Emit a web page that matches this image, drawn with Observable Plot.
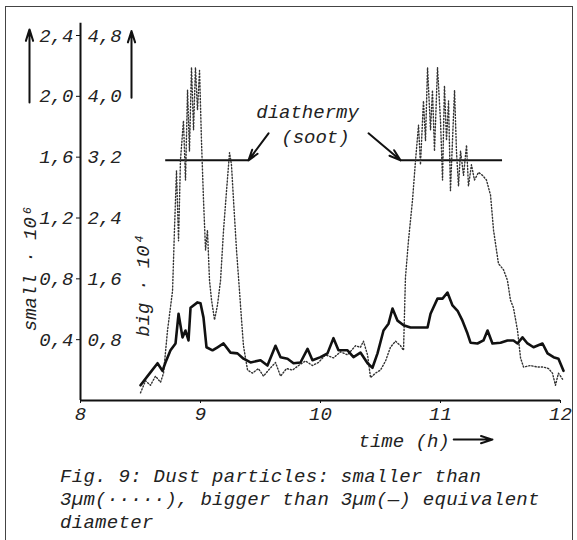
<!DOCTYPE html>
<html><head><meta charset="utf-8">
<script src="https://cdn.jsdelivr.net/npm/d3@7"></script>
<script src="https://cdn.jsdelivr.net/npm/@observablehq/plot@0.6"></script>
<style>
body{margin:0;background:#fff;}
#wrap{position:relative;width:577px;height:540px;overflow:hidden;background:#fff;}
#frame{position:absolute;left:5px;top:6px;width:568px;height:600px;border:1.5px solid #444;box-sizing:border-box;}
#chart{position:absolute;left:0;top:0;}
#caption{position:absolute;left:60px;top:466px;font:italic 19px "Liberation Mono", monospace;letter-spacing:0.3px;line-height:23px;color:#222;white-space:pre;}
</style></head>
<body><div id="wrap"><div id="frame"></div><div id="chart"></div><div id="caption"></div></div>
<script>
// time (h), small particles ·10^6 (dotted)
const smallDust = [[8.500,0.05],[8.542,0.13],[8.583,0.10],[8.625,0.16],[8.667,0.12],[8.692,0.18],[8.725,0.46],[8.767,0.72],[8.783,1.12],[8.800,1.51],[8.817,1.05],[8.833,1.58],[8.858,1.84],[8.875,1.45],[8.892,2.04],[8.908,1.64],[8.925,2.19],[8.942,1.78],[8.958,2.19],[8.975,1.91],[8.992,2.17],[9.008,1.71],[9.025,1.32],[9.042,0.99],[9.058,1.12],[9.075,0.79],[9.092,0.66],[9.117,0.53],[9.142,0.63],[9.167,0.79],[9.192,1.12],[9.217,1.38],[9.242,1.63],[9.258,1.55],[9.275,1.32],[9.300,0.99],[9.325,0.72],[9.342,0.53],[9.358,0.36],[9.392,0.20],[9.433,0.18],[9.483,0.21],[9.525,0.16],[9.567,0.20],[9.625,0.25],[9.667,0.16],[9.717,0.21],[9.767,0.20],[9.817,0.23],[9.875,0.26],[9.933,0.23],[9.983,0.25],[10.042,0.30],[10.108,0.28],[10.167,0.32],[10.225,0.30],[10.292,0.36],[10.333,0.35],[10.358,0.39],[10.392,0.30],[10.417,0.15],[10.458,0.18],[10.500,0.20],[10.542,0.26],[10.583,0.35],[10.625,0.39],[10.667,0.36],[10.692,0.33],[10.708,0.81],[10.733,1.05],[10.767,1.32],[10.792,1.58],[10.817,1.81],[10.833,1.55],[10.858,1.97],[10.875,1.71],[10.892,2.19],[10.917,1.78],[10.933,2.04],[10.950,1.64],[10.975,2.19],[11.000,1.84],[11.017,1.45],[11.033,2.07],[11.050,1.71],[11.067,1.97],[11.083,1.38],[11.100,1.71],[11.117,2.04],[11.133,1.64],[11.150,1.41],[11.167,1.64],[11.192,1.48],[11.217,1.68],[11.233,1.41],[11.258,1.55],[11.283,1.45],[11.317,1.50],[11.350,1.48],[11.383,1.45],[11.417,1.35],[11.442,1.12],[11.483,0.90],[11.525,0.86],[11.558,0.79],[11.583,0.66],[11.608,0.61],[11.642,0.46],[11.667,0.28],[11.692,0.22],[11.750,0.23],[11.808,0.22],[11.858,0.22],[11.900,0.21],[11.933,0.18],[11.958,0.10],[11.983,0.18],[12.017,0.14]];
// time (h), big particles ·10^4 (solid)
const bigDust = [[8.500,0.20],[8.583,0.37],[8.642,0.49],[8.683,0.39],[8.708,0.50],[8.750,0.66],[8.792,0.75],[8.817,1.14],[8.850,0.83],[8.875,0.92],[8.900,0.79],[8.917,1.22],[8.975,1.29],[9.000,1.28],[9.025,1.09],[9.050,0.70],[9.100,0.66],[9.142,0.70],[9.192,0.75],[9.250,0.63],[9.308,0.62],[9.358,0.55],[9.417,0.50],[9.500,0.53],[9.558,0.46],[9.625,0.72],[9.667,0.57],[9.725,0.55],[9.775,0.49],[9.833,0.50],[9.892,0.68],[9.933,0.53],[10.000,0.57],[10.058,0.62],[10.108,0.82],[10.150,0.66],[10.225,0.66],[10.275,0.57],[10.333,0.63],[10.392,0.49],[10.433,0.43],[10.475,0.62],[10.525,0.92],[10.567,1.01],[10.600,1.21],[10.642,1.05],[10.692,0.99],[10.750,0.96],[10.808,0.96],[10.892,0.96],[10.917,1.14],[10.975,1.34],[11.017,1.34],[11.058,1.42],[11.100,1.25],[11.142,1.18],[11.183,1.05],[11.225,0.88],[11.250,0.76],[11.308,0.75],[11.358,0.79],[11.392,0.92],[11.433,0.75],[11.500,0.76],[11.558,0.79],[11.608,0.79],[11.642,0.75],[11.683,0.83],[11.725,0.75],[11.775,0.70],[11.850,0.75],[11.892,0.62],[11.942,0.57],[11.983,0.55],[12.025,0.39]];

const xTicks = [8, 9, 10, 11, 12];
const xTickLabels = ["8", "9", "10", "11", "12"];
const yTicks = [0.4, 0.8, 1.2, 1.6, 2.0, 2.4];
const smallTickLabels = ["0,4", "0,8", "1,2", "1,6", "2,0", "2,4"];
const bigTickLabels = ["0,8", "1,6", "2,4", "3,2", "4,0", "4,8"];

// diathermy (soot) periods, level in small-axis units
const diathermy = [{from: 8.71, to: 9.40, level: 1.58}, {from: 10.667, to: 11.517, level: 1.58}];
const yAxisTop = 2.48;

const annotationTexts = [
  {x: 9.892, y: 1.895, text: "diathermy", rotate: 0},
  {x: 9.958, y: 1.73, text: "(soot)", rotate: 0},
  {x: 7.575, y: 0.868, text: "small · 10⁶", rotate: -90},
  {x: 8.517, y: 0.757, text: "big · 10⁴", rotate: -90}
];
const xAxisTitle = [{x: 10.317, y: -0.263, text: "time (h)"}];
const annotationArrows = [
  {x1: 9.567, y1: 1.757, x2: 9.40, y2: 1.579},
  {x1: 10.40, y1: 1.757, x2: 10.667, y2: 1.579},
  {x1: 7.575, y1: 1.96, x2: 7.575, y2: 2.44},
  {x1: 8.425, y1: 1.99, x2: 8.425, y2: 2.43},
  {x1: 11.11, y1: -0.257, x2: 11.433, y2: -0.257}
];
const captionLines = [
  "Fig. 9: Dust particles: smaller than",
  "3µm(·····), bigger than 3µm(—) equivalent",
  "diameter"
];

const FONT = '"Liberation Mono", "DejaVu Sans Mono", monospace';
const chart = Plot.plot({
  width: 577, height: 455,
  marginLeft: 80, marginRight: 17, marginTop: 35, marginBottom: 55,
  x: {domain: [8, 12]},
  y: {domain: [0, 2.4]},
  style: {fontFamily: FONT, fontSize: "19px", fontStyle: "italic", background: "transparent", color: "#222", overflow: "visible"},
  marks: [
    Plot.ruleX([8], {y1: 0, y2: yAxisTop, strokeWidth: 2, stroke: "#111"}),
    Plot.ruleY([0], {strokeWidth: 2, stroke: "#111"}),
    Plot.axisX({ticks: xTicks, tickFormat: d => xTickLabels[xTicks.indexOf(d)], tickSize: 3, tickPadding: 3, label: null, fontSize: 19, stroke: "#111"}),
    Plot.axisY({ticks: yTicks, tickFormat: d => smallTickLabels[yTicks.indexOf(d)], tickSize: 4, tickPadding: 3, label: null, fontSize: 19, stroke: "#111"}),
    Plot.text(yTicks, {x: 8, y: d => d, text: (d, i) => bigTickLabels[i], textAnchor: "start", dx: 7, fontSize: 19, fill: "#222"}),
    Plot.ruleY(diathermy, {y: "level", x1: "from", x2: "to", strokeWidth: 2, stroke: "#111"}),
    Plot.line(smallDust, {x: d => d[0], y: d => d[1], stroke: "#333", strokeWidth: 1.4, strokeDasharray: "1.2 2"}),
    Plot.line(bigDust, {x: d => d[0], y: d => d[1] / 2, stroke: "#111", strokeWidth: 2.6, strokeLinejoin: "round"}),
    Plot.arrow(annotationArrows, {x1: "x1", y1: "y1", x2: "x2", y2: "y2", stroke: "#111", strokeWidth: 2, headLength: 9, headAngle: 35}),
    Plot.text(annotationTexts, {x: "x", y: "y", text: "text", textAnchor: "middle", rotate: "rotate", lineAnchor: "middle", fontSize: 19, fill: "#222"}),
    Plot.text(xAxisTitle, {x: "x", y: "y", text: "text", textAnchor: "start", lineAnchor: "middle", fontSize: 19, fill: "#222"})
  ]
});
document.getElementById("chart").appendChild(chart);
document.getElementById("caption").textContent = captionLines.join("\n");
</script>
</body></html>
